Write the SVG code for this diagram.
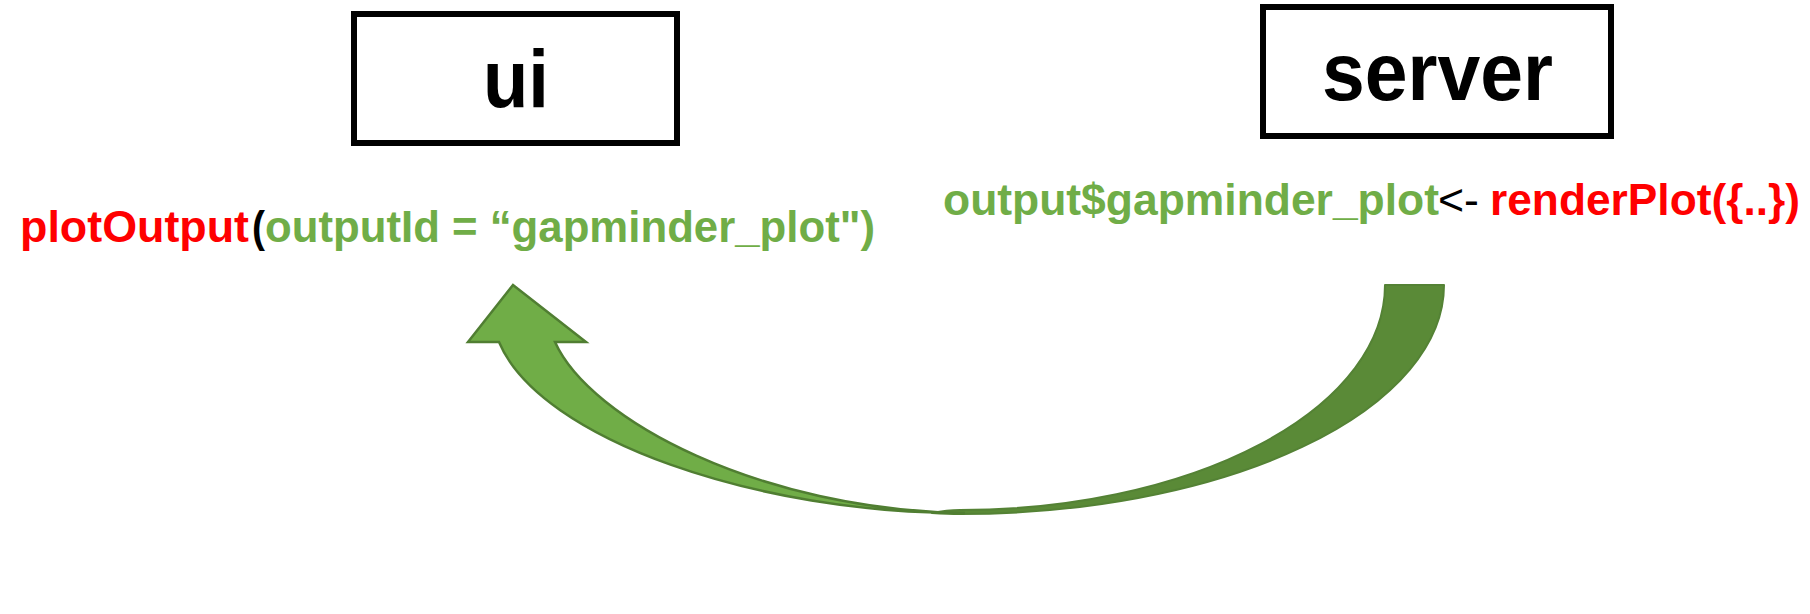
<svg xmlns="http://www.w3.org/2000/svg" width="1810" height="614" viewBox="0 0 1810 614">
<style>
.box{fill:#fff;stroke:#000;stroke-width:6}
.title{font-family:"Liberation Sans",Arial,sans-serif;font-weight:bold;font-size:82px;fill:#000}
.code{font-family:"Liberation Sans",Arial,sans-serif;font-weight:bold;font-size:44px}
.red{fill:#ff0000}
.green{fill:#70ad47}
.black{fill:#000}
.thin{font-weight:normal}
</style>
<rect width="1810" height="614" fill="#fff"/>
<g id="ui">
<rect class="box" x="354" y="14" width="323" height="129"/>
<text class="title" x="483" y="107" textLength="66" lengthAdjust="spacingAndGlyphs">ui</text>
</g>
<g id="server">
<rect class="box" x="1263" y="7" width="348" height="129"/>
<text class="title" x="1322" y="100" textLength="231" lengthAdjust="spacingAndGlyphs">server</text>
</g>
<g id="ui-code">
<text class="code red" x="20" y="242" textLength="229" lengthAdjust="spacingAndGlyphs">plotOutput</text>
<text class="code black" x="252" y="242" textLength="13" lengthAdjust="spacingAndGlyphs">(</text>
<text class="code green" x="265" y="242" textLength="610" lengthAdjust="spacingAndGlyphs">outputId = “gapminder_plot")</text>
</g>
<g id="server-code">
<text class="code green" x="943" y="215" textLength="496" lengthAdjust="spacingAndGlyphs">output$gapminder_plot</text>
<text class="code black thin" x="1438" y="215" textLength="41" lengthAdjust="spacingAndGlyphs">&lt;-</text>
<text class="code red" x="1490" y="215" textLength="310" lengthAdjust="spacingAndGlyphs">renderPlot({..})</text>
</g>
<g id="connectors">
<path d="M1385,285 L1444,285 A484,229 0 0 1 960,514 C950,514 940,513.5 932,513 C942,511 950,510 960,510 A425,225 0 0 0 1385,285 Z" fill="#5a8a37" stroke="#548235" stroke-width="2" stroke-linejoin="round"/>
<path d="M468,342 L513,285 L586,342 L555,342 C590,420 760,510 965,513 C760,514 540,440 499,342 Z" fill="#70ad47" stroke="#507e32" stroke-width="2.5" stroke-linejoin="miter"/>
</g>
</svg>
